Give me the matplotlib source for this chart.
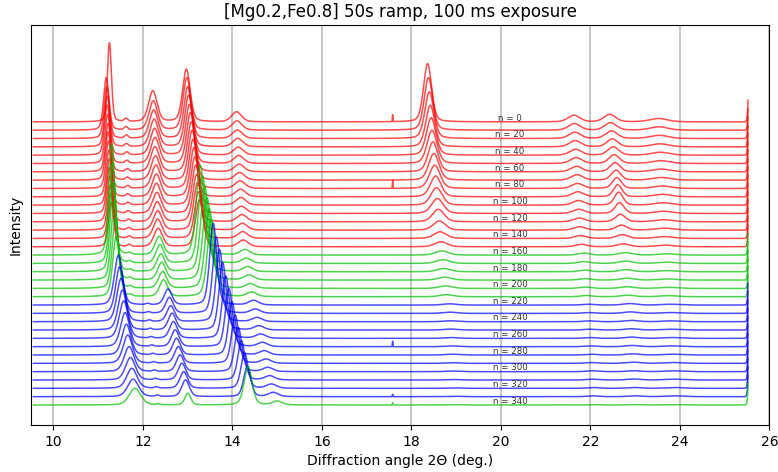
import numpy as np
import matplotlib
matplotlib.use("Agg")
import matplotlib.pyplot as plt

# ---------------- data ----------------
scan_n = [0, 10, 20, 30, 40, 50, 60, 70, 80, 90, 100, 110, 120, 130, 140, 150,
          160, 170, 180, 190, 200, 210,
          220, 230, 240, 250, 260, 270, 280, 290, 300, 310, 320, 330,
          340]
phase = ['r'] * 16 + ['g'] * 6 + ['b'] * 12 + ['g']

# peak A (~11.2 deg)
A_pos = [11.25, 11.18, 11.19, 11.20, 11.20, 11.21, 11.22, 11.22, 11.23, 11.24, 11.25, 11.25, 11.26, 11.27, 11.28, 11.29,
         11.30, 11.32, 11.34, 11.36, 11.38, 11.40,
         11.45, 11.48, 11.51, 11.54, 11.57, 11.60, 11.63, 11.66, 11.69, 11.72, 11.75, 11.78,
         11.82]
A_h = [9.5, 6.3, 6.2, 6.1, 6.0, 5.9, 5.8, 5.8, 5.7, 5.6, 5.6, 5.5, 5.5, 5.4, 5.4, 5.3,
       13.4, 12.0, 10.7, 9.5, 8.3, 7.2,
       6.0, 5.6, 5.2, 4.8, 4.5, 4.1, 3.7, 3.4, 3.0, 2.7, 2.4, 2.1,
       2.0]
A_w = [0.045, 0.06, 0.06, 0.06, 0.06, 0.06, 0.06, 0.06, 0.06, 0.06, 0.06, 0.06, 0.06, 0.06, 0.06, 0.06,
       0.065, 0.065, 0.07, 0.07, 0.07, 0.075,
       0.09, 0.09, 0.095, 0.095, 0.10, 0.10, 0.10, 0.105, 0.11, 0.11, 0.115, 0.12,
       0.13]

# peak B (~12.25 deg)
B_pos = [12.22, 12.23, 12.24, 12.25, 12.26, 12.27, 12.27, 12.28, 12.29, 12.30, 12.30, 12.31, 12.32, 12.33, 12.33, 12.34,
         12.36, 12.38, 12.40, 12.42, 12.44, 12.46,
         12.56, 12.59, 12.62, 12.65, 12.68, 12.72, 12.75, 12.79, 12.83, 12.87, 12.91, 12.95,
         13.00]
B_h = [3.7, 3.5, 3.4, 3.3, 3.2, 3.1, 3.0, 2.9, 2.8, 2.7, 2.6, 2.5, 2.4, 2.3, 2.3, 2.2,
       2.2, 2.2, 2.1, 2.1, 2.0, 2.0,
       1.9, 1.9, 1.9, 2.0, 2.0, 2.0, 2.0, 2.0, 2.0, 2.0, 2.0, 2.0,
       1.4]
B_w = [0.095] * 16 + [0.09] * 6 + [0.085] * 12 + [0.065]

# peak C (~13 deg)
C_pos = [12.97, 12.98, 13.00, 13.02, 13.04, 13.06, 13.08, 13.10, 13.12, 13.14, 13.16, 13.18, 13.20, 13.22, 13.24, 13.26,
         13.28, 13.33, 13.38, 13.43, 13.48, 13.53,
         13.57, 13.64, 13.71, 13.78, 13.85, 13.92, 13.99, 14.06, 14.13, 14.20, 14.27, 14.33,
         14.35]
C_h = [6.3, 6.3, 6.2, 6.2, 6.1, 6.1, 6.0, 6.0, 5.9, 5.9, 5.8, 5.8, 5.7, 5.7, 5.6, 5.6,
       10.8, 10.5, 10.2, 9.9, 9.6, 9.3,
       9.8, 9.2, 8.7, 8.1, 7.5, 7.0, 6.4, 5.8, 5.3, 4.7, 4.2, 3.6,
       4.6]
C_w = [0.085] * 16 + [0.09] * 6 + [0.08] * 12 + [0.09]

# peak D (~14.1 deg)
D_pos = [14.09, 14.10, 14.11, 14.12, 14.13, 14.14, 14.15, 14.16, 14.17, 14.18, 14.19, 14.20, 14.21, 14.22, 14.23, 14.24,
         14.28, 14.31, 14.34, 14.37, 14.40, 14.43,
         14.47, 14.51, 14.55, 14.59, 14.63, 14.67, 14.71, 14.75, 14.79, 14.83, 14.87, 14.91,
         15.00]
D_h = [1.2, 1.1, 1.0, 1.0, 0.95, 0.95, 0.9, 0.9, 0.9, 0.9, 0.9, 0.85, 0.85, 0.8, 0.8, 0.8,
       0.65, 0.6, 0.6, 0.6, 0.55, 0.55,
       0.55, 0.5, 0.5, 0.5, 0.5, 0.5, 0.5, 0.5, 0.5, 0.5, 0.5, 0.5,
       0.45]

# peak E (~18.35 deg)
E_pos = [18.36, 18.38, 18.40, 18.42, 18.44, 18.46, 18.48, 18.50, 18.52, 18.54, 18.56, 18.58, 18.60, 18.62, 18.64, 18.66,
         18.68, 18.70, 18.72, 18.74, 18.76, 18.78,
         18.85, 18.86, 18.87, 18.88, 18.89, 18.90, 18.91, 18.92, 18.93, 18.94, 18.95, 18.96,
         18.97]
E_h = [7.0, 6.3, 5.6, 5.0, 4.5, 4.0, 3.6, 3.2, 2.8, 2.5, 2.1, 1.8, 1.5, 1.1, 0.8, 0.6,
       0.5, 0.45, 0.4, 0.35, 0.3, 0.25,
       0.15, 0.15, 0.12, 0.12, 0.1, 0.1, 0.1, 0.08, 0.08, 0.06, 0.06, 0.05,
       0.05]
E_w = [0.09, 0.095, 0.10, 0.10, 0.105, 0.11, 0.11, 0.115, 0.12, 0.12, 0.125, 0.13, 0.13, 0.135, 0.14, 0.14,
       0.15, 0.15, 0.15, 0.15, 0.15, 0.15,
       0.15, 0.15, 0.15, 0.15, 0.15, 0.15, 0.15, 0.15, 0.15, 0.15, 0.15, 0.15,
       0.15]

# peak F (~21.65 deg)
F_pos = [21.63, 21.64, 21.65, 21.66, 21.67, 21.68, 21.69, 21.70, 21.71, 21.72, 21.73, 21.74, 21.75, 21.76, 21.78, 21.80,
         21.85, 21.86, 21.87, 21.88, 21.89, 21.90,
         21.95, 21.96, 21.97, 21.98, 21.99, 22.00, 22.01, 22.02, 22.03, 22.04, 22.05, 22.06,
         22.07]
F_h = [0.8, 0.8, 0.75, 0.75, 0.7, 0.7, 0.65, 0.65, 0.6, 0.6, 0.55, 0.5, 0.45, 0.4, 0.35, 0.3,
       0.25, 0.22, 0.2, 0.18, 0.16, 0.15,
       0.1, 0.1, 0.1, 0.1, 0.1, 0.1, 0.1, 0.1, 0.1, 0.1, 0.1, 0.1,
       0.05]

# peak G (~22.45 deg)
G_pos = [22.43, 22.45, 22.47, 22.49, 22.51, 22.53, 22.55, 22.57, 22.59, 22.61, 22.63, 22.65, 22.67, 22.69, 22.71, 22.73,
         22.78, 22.79, 22.80, 22.81, 22.82, 22.83,
         22.88, 22.89, 22.90, 22.91, 22.92, 22.93, 22.94, 22.95, 22.96, 22.97, 22.98, 22.99,
         23.00]
G_h = [0.9, 0.9, 0.9, 0.95, 1.0, 1.05, 1.1, 1.2, 1.3, 1.45, 1.55, 1.3, 0.9, 0.6, 0.45, 0.35,
       0.3, 0.28, 0.25, 0.22, 0.2, 0.2,
       0.18, 0.18, 0.16, 0.16, 0.15, 0.15, 0.14, 0.14, 0.12, 0.12, 0.1, 0.1,
       0.05]
G_w = [0.13, 0.13, 0.13, 0.12, 0.12, 0.115, 0.11, 0.105, 0.10, 0.095, 0.095, 0.10, 0.11, 0.12, 0.13, 0.14,
       0.15, 0.15, 0.15, 0.15, 0.15, 0.15,
       0.15, 0.15, 0.15, 0.15, 0.15, 0.15, 0.15, 0.15, 0.15, 0.15, 0.15, 0.15,
       0.15]

# peak H (~23.55 deg)
H_pos = [23.52, 23.53, 23.54, 23.55, 23.56, 23.57, 23.58, 23.59, 23.60, 23.61, 23.62, 23.63, 23.64, 23.65, 23.66, 23.67,
         23.70, 23.71, 23.72, 23.73, 23.74, 23.75,
         23.78, 23.79, 23.80, 23.81, 23.82, 23.83, 23.84, 23.85, 23.86, 23.87, 23.88, 23.89,
         23.90]
H_h = [0.4, 0.4, 0.38, 0.36, 0.35, 0.34, 0.33, 0.32, 0.3, 0.3, 0.28, 0.26, 0.25, 0.24, 0.22, 0.2,
       0.15, 0.15, 0.14, 0.14, 0.13, 0.13,
       0.1, 0.1, 0.1, 0.1, 0.1, 0.1, 0.1, 0.1, 0.1, 0.1, 0.1, 0.1,
       0.05]

# small bump near 11.6 deg (red scans) / 12.1-12.3 deg (blue scans)
S_pos = [11.62, 11.62, 11.63, 11.63, 11.64, 11.64, 11.65, 11.65, 11.66, 11.66, 11.67, 11.67, 11.68, 11.68, 11.69, 11.69,
         11.70, 11.70, 11.71, 11.71, 11.72, 11.72,
         12.10, 12.12, 12.14, 12.16, 12.18, 12.20, 12.22, 12.24, 12.26, 12.28, 12.30, 12.32,
         12.34]
S_h = [0.35, 0.35, 0.35, 0.33, 0.33, 0.32, 0.32, 0.3, 0.3, 0.3, 0.28, 0.28, 0.26, 0.26, 0.25, 0.25,
       0.2, 0.2, 0.2, 0.2, 0.2, 0.2,
       0.15, 0.15, 0.15, 0.15, 0.15, 0.15, 0.15, 0.15, 0.15, 0.15, 0.15, 0.15,
       0.1]

# narrow spikes at 17.58 deg in a few scans
spike_pos = 17.58
spike_h = [0.9, 0, 0, 0, 0, 0, 0, 0, 1.0, 0, 0, 0, 0, 0, 0, 0,
           0, 0, 0, 0, 0, 0,
           0, 0, 0, 0, 0, 0.7, 0, 0, 0, 0, 0, 0.3,
           0.3]

# detector-edge rise at the high-angle end
edge_h = [2.6] * 35

x_start, x_end = 9.55, 25.52
labels_every = 20

colors = {'r': '#ff0000', 'g': '#00c000', 'b': '#0000ff'}


def pv(x, c, h, w, eta=0.3):
    """pseudo-Voigt peak shape"""
    g = np.exp(-0.5 * ((x - c) / w) ** 2)
    gam = w * 1.1774
    l = 1.0 / (1.0 + ((x - c) / gam) ** 2)
    return h * ((1 - eta) * g + eta * l)


# ---------------- figure ----------------
fig = plt.figure(figsize=(7.78, 4.72), dpi=100)
ax = fig.add_axes([0.040, 0.0996, 0.949, 0.8475])

x = np.linspace(x_start, x_end, 3200)
N = len(scan_n)
for i in range(N):
    off = (N - 1 - i)
    y = np.zeros_like(x)
    y += pv(x, A_pos[i], A_h[i], A_w[i])
    y += pv(x, B_pos[i], B_h[i], B_w[i])
    y += pv(x, C_pos[i], C_h[i], C_w[i])
    y += pv(x, D_pos[i], D_h[i], 0.11)
    y += pv(x, E_pos[i], E_h[i], E_w[i])
    y += pv(x, F_pos[i], F_h[i], 0.13)
    y += pv(x, G_pos[i], G_h[i], G_w[i])
    y += pv(x, H_pos[i], H_h[i], 0.2)
    y += pv(x, S_pos[i], S_h[i], 0.04, eta=0.0)
    y += pv(x, spike_pos, spike_h[i], 0.006, eta=0.0)
    y += edge_h[i] * np.exp((x - x_end) / 0.012)
    ax.plot(x, y + off, color=colors[phase[i]], lw=1.1, alpha=0.7,
            zorder=2 + i * 0.01)
    if scan_n[i] % labels_every == 0:
        ax.text(20.2, off + 0.45, f"n = {scan_n[i]}", ha='center', va='center',
                fontsize=6.2, color='#333333', zorder=5)

ax.set_xlim(9.5, 26.0)
ax.set_ylim(-2.4, N - 1 + 11.64)
ax.set_xticks([10, 12, 14, 16, 18, 20, 22, 24, 26])
ax.set_yticks([])
ax.tick_params(axis='x', labelsize=10)
ax.grid(axis='x', color='#c8c8c8', lw=1.5, zorder=0)
ax.set_axisbelow(True)
ax.set_xlabel("Diffraction angle 2\u0398 (deg.)", fontsize=10, labelpad=4)
ax.set_ylabel("Intensity", fontsize=10, labelpad=6)
ax.set_title("[Mg0.2,Fe0.8] 50s ramp, 100 ms exposure", fontsize=12, pad=6)

fig.savefig("out.png", dpi=100)
